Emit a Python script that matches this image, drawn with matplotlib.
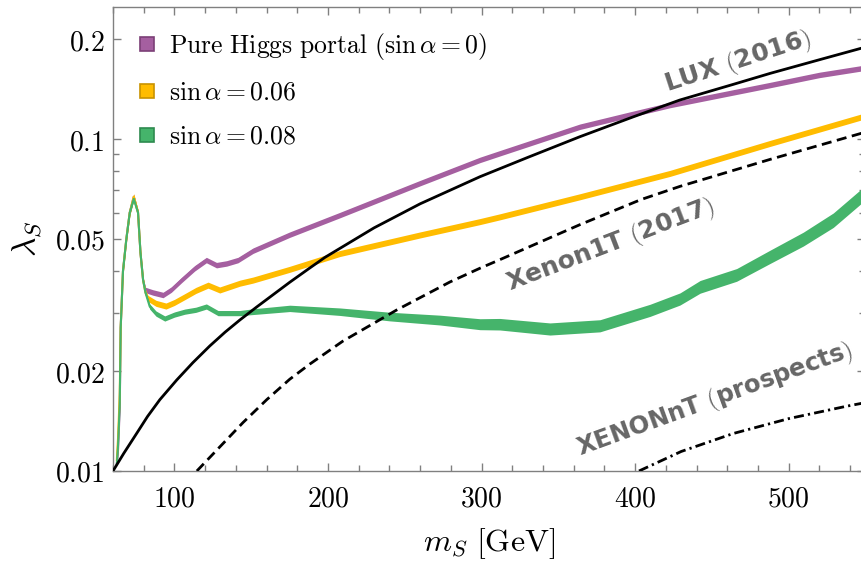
import matplotlib
matplotlib.use("Agg")
import matplotlib.pyplot as plt
import numpy as np
from matplotlib.lines import Line2D
from matplotlib.ticker import FixedLocator, NullFormatter, MultipleLocator, FuncFormatter

plt.rcParams['mathtext.fontset'] = 'cm'
plt.rcParams['font.family'] = 'DejaVu Sans'

# ---- scan results: band centre and fractional half-spread of the points ----
m_pure = [62.5, 63.3, 64.4, 65.0, 66.5, 68.7, 70.9, 73.5, 76.3, 77.9, 79.6, 81.1,
          86.0, 92.6, 98.0, 104.6, 113.2, 120.8, 127.4, 134.0, 141.4, 151.2, 175.0,
          207.7, 259.8, 298.9, 311.9, 364.0, 395.0, 422.7, 487.8, 520.0, 548.0]
lam_pure = [0.0105, 0.0116, 0.0155, 0.027, 0.040, 0.050, 0.060, 0.067, 0.060, 0.0454,
            0.0376, 0.0351, 0.0345, 0.0339, 0.0352, 0.0376, 0.0408, 0.0432, 0.0417,
            0.0422, 0.0432, 0.0461, 0.0515, 0.0590, 0.0736, 0.0865, 0.0906, 0.1089,
            0.1180, 0.1266, 0.1454, 0.1560, 0.1635]
spread_pure = 0.019

m_s006 = [62.5, 63.3, 64.4, 65.0, 66.5, 68.7, 70.9, 73.5, 76.3, 77.9, 79.6, 81.1,
          82.8, 88.0, 94.5, 100.0, 106.7, 114.0, 121.9, 129.5, 142.6, 151.2, 175.0,
          207.7, 259.8, 298.9, 311.9, 364.0, 422.7, 487.8, 548.0]
lam_s006 = [0.0108, 0.0126, 0.0171, 0.027, 0.040, 0.050, 0.060, 0.067, 0.060, 0.0454,
            0.0376, 0.0345, 0.0331, 0.0320, 0.0314, 0.0322, 0.0335, 0.0350, 0.0363,
            0.0351, 0.0368, 0.0376, 0.0405, 0.0452, 0.0514, 0.0564, 0.0583, 0.0670,
            0.0788, 0.0970, 0.1168]
spread_s006 = 0.021

m_s008 = [62.5, 63.3, 64.4, 65.0, 66.5, 68.7, 70.9, 73.5, 76.3, 77.9, 79.6, 81.1,
          83.9, 88.0, 93.7, 100.0, 106.7, 114.0, 120.8, 128.4, 142.6, 151.2, 175.1,
          207.7, 240.3, 272.9, 298.9, 311.9, 344.5, 377.1, 409.7, 429.2, 442.3,
          466.1, 487.8, 509.5, 529.0, 548.0]
lam_s008 = [0.0105, 0.0120, 0.0160, 0.027, 0.040, 0.050, 0.060, 0.066, 0.060, 0.0454,
            0.0376, 0.0345, 0.0313, 0.0298, 0.0288, 0.0296, 0.0302, 0.0306, 0.0313,
            0.0299, 0.0299, 0.0302, 0.0309, 0.0302, 0.0292, 0.0285, 0.0277, 0.0277,
            0.0268, 0.0274, 0.0305, 0.0330, 0.0359, 0.0390, 0.0442, 0.0500, 0.0570,
            0.0678]
spread_s008 = [0.012, 0.012, 0.012, 0.012, 0.012, 0.012, 0.012, 0.012, 0.012, 0.012,
               0.012, 0.014, 0.018, 0.018, 0.018, 0.018, 0.018, 0.018, 0.018, 0.018,
               0.018, 0.020, 0.022, 0.026, 0.030, 0.034, 0.038, 0.040, 0.042, 0.042,
               0.042, 0.042, 0.044, 0.044, 0.046, 0.048, 0.050, 0.050]

# ---- direct-detection limits ----
m_lux = [60.0, 67.0, 75.5, 82.5, 90.5, 101.5, 112.0, 123.0, 133.0, 142.6, 153.6,
         175.0, 188.2, 198.0, 230.0, 260.0, 299.0, 330.0, 364.0, 398.5, 429.0,
         463.7, 488.0, 520.0, 550.0]
lam_lux = [0.0100, 0.0113, 0.0130, 0.0146, 0.0164, 0.0188, 0.0212, 0.0238, 0.0262,
           0.0285, 0.0312, 0.0370, 0.0409, 0.0440, 0.0540, 0.0638, 0.0770, 0.0880,
           0.1016, 0.1165, 0.1310, 0.1460, 0.1577, 0.1733, 0.1892]

m_x1t = [114.6, 144.7, 160.1, 175.1, 188.2, 209.6, 245.0, 279.4, 298.9, 311.9,
         364.0, 403.8, 429.2, 487.8, 550.0]
lam_x1t = [0.0100, 0.0140, 0.0164, 0.0189, 0.0210, 0.0246, 0.0306, 0.0371, 0.0408,
           0.0433, 0.0552, 0.0657, 0.0720, 0.0868, 0.1049]

m_xnt = [402.5, 430.0, 463.9, 500.0, 537.6, 550.0]
lam_xnt = [0.0100, 0.01145, 0.01297, 0.01438, 0.01567, 0.01607]

labels = [r'$\mathrm{Pure\ Higgs\ portal}\ (\sin\alpha = 0)$',
          r'$\sin\alpha = 0.06$',
          r'$\sin\alpha = 0.08$']
face_colors = ['#A55FA0', '#FFBC00', '#45B46B']
edge_colors = ['#7B3F77', '#C89200', '#2E8A4F']

y_major = [0.01, 0.02, 0.05, 0.1, 0.2]
y_minor = [0.03, 0.04, 0.06, 0.07, 0.08, 0.09]

fig = plt.figure(figsize=(8.62, 5.64), dpi=100)
ax = fig.add_axes([113 / 862, 93 / 564, 752.5 / 862, 464.1 / 564])
ax.set_yscale('log')
ax.set_xlim(60, 550)
ax.set_ylim(0.01, 0.25)

bands = [(m_pure, lam_pure, spread_pure),
         (m_s006, lam_s006, spread_s006),
         (m_s008, lam_s008, spread_s008)]
for (m, lam, sp), fc in zip(bands, face_colors):
    m = np.asarray(m)
    lam = np.asarray(lam)
    sp = np.asarray(sp) * np.ones_like(lam)
    ax.fill_between(m, lam * (1 - sp), lam * (1 + sp), color=fc, lw=0, zorder=2)
    ax.plot(m, lam, color=fc, lw=1.5, zorder=2)

ax.plot(m_lux, lam_lux, color='black', lw=2.0, zorder=4)
ax.plot(m_x1t, lam_x1t, color='black', lw=2.0, ls=(0, (3.6, 2.0)), zorder=4)
ax.plot(m_xnt, lam_xnt, color='black', lw=2.0, ls=(0, (3.6, 1.5, 0.8, 1.5)), zorder=4)

txt_kw = dict(color='#666666', fontsize=18, fontweight='bold', ha='center',
              va='center', rotation_mode='anchor', zorder=5)
ax.text(467, 0.170, r'LUX $($2016$)$', rotation=18, **txt_kw)
ax.text(384, 0.0478, r'Xenon1T $($2017$)$', rotation=21, **txt_kw)
txt_kw['fontsize'] = 17.5
ax.text(452, 0.0163, r'XENONnT $($prospects$)$', rotation=20, **txt_kw)

# axes frame and ticks
gray = '#808080'
for sp in ax.spines.values():
    sp.set_color(gray)
    sp.set_linewidth(1.0)
ax.yaxis.set_major_locator(FixedLocator(y_major))
ax.yaxis.set_minor_locator(FixedLocator(y_minor))
ax.yaxis.set_minor_formatter(NullFormatter())
ax.yaxis.set_major_formatter(FuncFormatter(lambda v, p: r'$%g$' % v))
ax.xaxis.set_major_locator(MultipleLocator(100))
ax.xaxis.set_minor_locator(MultipleLocator(20))
ax.xaxis.set_major_formatter(FuncFormatter(lambda v, p: r'$%d$' % v))
ax.tick_params(which='both', direction='in', top=True, right=True, color=gray,
               labelsize=20, width=1.0)
ax.tick_params(which='major', length=5.5)
ax.tick_params(which='minor', length=4)
ax.tick_params(axis='x', which='major', pad=9.5)
ax.tick_params(axis='y', which='major', pad=6)

ax.set_xlabel(r'$m_S\ [\mathrm{GeV}]$', fontsize=23, labelpad=10)
ax.set_ylabel(r'$\lambda_S$', fontsize=24, labelpad=8)

handles = [Line2D([], [], ls='none', marker='s', markersize=9.5, markerfacecolor=fc,
                  markeredgecolor=ec, markeredgewidth=1.2)
           for fc, ec in zip(face_colors, edge_colors)]
ax.legend(handles, labels, loc='upper left', frameon=False, fontsize=18.5,
          bbox_to_anchor=(0.0, 1.0), borderaxespad=0.5, borderpad=0.42,
          handletextpad=0.45, labelspacing=0.7, handlelength=0.8)

fig.savefig('out.png', dpi=100)
